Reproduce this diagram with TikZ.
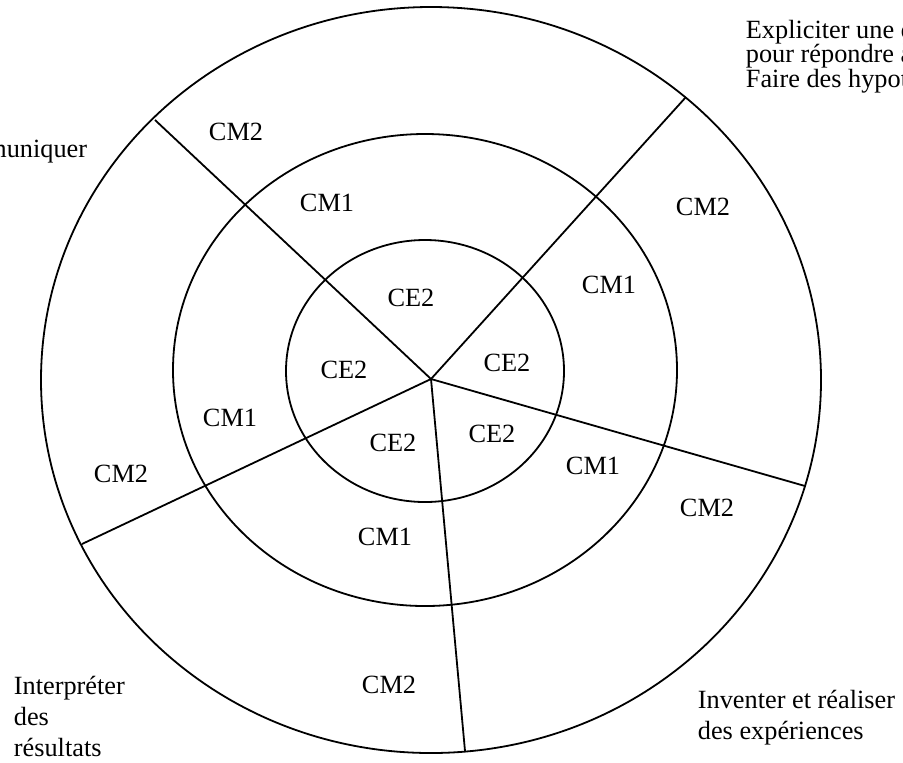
\documentclass[tikz,border=0pt]{standalone}
\usepackage{fontspec}
\setmainfont{Liberation Serif}
\begin{document}
\begin{tikzpicture}[x=0.5pt,y=-0.5pt,line width=0.9pt,
  lvl/.style={font=\fontsize{13.15}{15}\selectfont,inner sep=0pt},
  side/.style={font=\fontsize{13.15}{15.5}\selectfont,inner sep=0pt,align=left}]
    \useasboundingbox (0,0) rectangle (903,762);

    \draw (431,380) ellipse [x radius=390, y radius=373];
    \draw (425,370) ellipse [x radius=252, y radius=236];
    \draw (425,371) ellipse [x radius=139, y radius=131];

    \coordinate (C) at (431,379);
    \coordinate (UL) at (155,120);
    \coordinate (UR) at (686,97);
    \coordinate (RL) at (805,486);
    \coordinate (BO) at (465,751);
    \coordinate (LL) at (82,544);

    \draw (C)--(UL);
    \draw (C)--(UR);
    \draw (C)--(RL);
    \draw (C)--(BO);
    \draw (C)--(LL);

    \node[lvl] (E1) at (411,298) {CE2};
    \node[lvl] (E2) at (507,363) {CE2};
    \node[lvl] (E3) at (492,434) {CE2};
    \node[lvl] (E4) at (393,443) {CE2};
    \node[lvl] (E5) at (344,370) {CE2};

    \node[lvl] (M1) at (327,203) {CM1};
    \node[lvl] (M2) at (609,285) {CM1};
    \node[lvl] (M3) at (593,466) {CM1};
    \node[lvl] (M4) at (385,537) {CM1};
    \node[lvl] (M5) at (230,418) {CM1};

    \node[lvl] (N1) at (236,132) {CM2};
    \node[lvl] (N2) at (703,207) {CM2};
    \node[lvl] (N3) at (707,508) {CM2};
    \node[lvl] (N4) at (389,685) {CM2};
    \node[lvl] (N5) at (121,474) {CM2};

    \node[side,font=\fontsize{13.15}{12.3}\selectfont,anchor=north west] (TR) at (745,19)
      {Expliciter une question\\pour répondre à un problème\\Faire des hypothèses};
    \node[side,anchor=base east] (TL) at (88,157) {Communiquer};
    \node[side,anchor=north west] (BL) at (13,675) {Interprét\-er\\des\\résultats};
    \node[side,anchor=north west] (BR) at (697,689) {Inventer et réaliser\\des expériences};
\end{tikzpicture}
\end{document}
